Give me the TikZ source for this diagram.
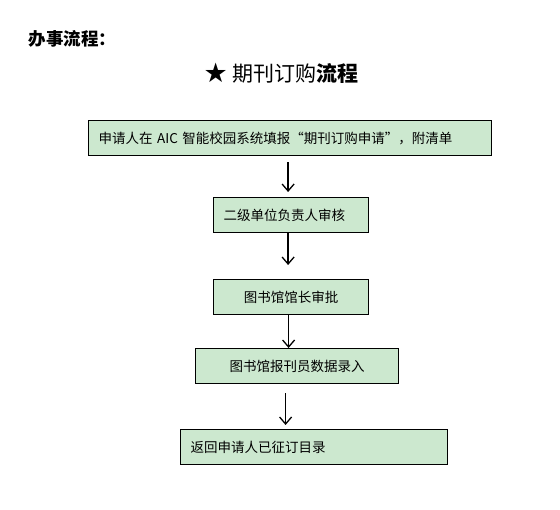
\documentclass[tikz,border=0pt]{standalone}
\usepackage{fontspec}
\setmainfont{Noto Sans CJK SC}
\newfontfamily\starfont{DejaVu Sans}
\usetikzlibrary{positioning, arrows.meta}
\definecolor{BoxGreen}{RGB}{204, 232, 207}

\begin{document}
\begin{tikzpicture}[x=1pt, y=-1pt,
    stepbox/.style={draw, line width=1.2pt, fill=BoxGreen, anchor=north west,
      inner ysep=0pt, minimum height=35pt, font=\fontsize{13.5}{16}\selectfont},
    flow/.style={-{Straight Barb[length=7pt, width=12pt]}, line width=1.3pt}]
    \useasboundingbox (0,0) rectangle (560,510);

    % Headings
    \node[anchor=west, font=\fontsize{17.5}{20}\selectfont\bfseries] (head) at (25,39) {办事流程：};
    \node[anchor=west, font=\fontsize{21}{24}\selectfont] (title) at (200,73)
      {{\starfont\fontsize{27}{30}\selectfont\raisebox{-1pt}{★}}\hspace{5pt}期刊订购\textbf{流程}};

    % Steps
    \node[stepbox, minimum width=403pt, text width=383pt, inner xsep=10pt, align=left] (b1) at (88,120)
      {申请人在 AIC 智能校园系统填报“期刊订购申请”，附清单};
    \node[stepbox, minimum width=155pt, text width=135pt, inner xsep=10pt, align=left] (b2) at (213,197)
      {二级单位负责人审核};
    \node[stepbox, minimum width=155pt] (b3) at (213,279) {图书馆馆长审批};
    \node[stepbox, minimum width=203pt] (b4) at (195,348) {图书馆报刊员数据录入};
    \node[stepbox, minimum width=267pt, text width=247pt, inner xsep=10pt, align=left] (b5) at (180,429)
      {返回申请人已征订目录};

    % Arrows
    \draw[flow, shorten <=6pt, shorten >=5pt] ([xshift=-2pt]b1.south) -- ([xshift=-2pt]b1.south |- b2.north);
    \draw[flow, shorten >=14pt] ([xshift=-3pt]b2.south) -- ([xshift=-3pt]b2.south |- b3.north);
    \draw[flow] ([xshift=-2.5pt]b3.south) -- ([xshift=-2.5pt]b3.south |- b4.north);
    \draw[flow, shorten <=9pt, shorten >=4pt] ([xshift=-11.5pt]b4.south) -- ([xshift=-11.5pt]b4.south |- b5.north);
\end{tikzpicture}
\end{document}
